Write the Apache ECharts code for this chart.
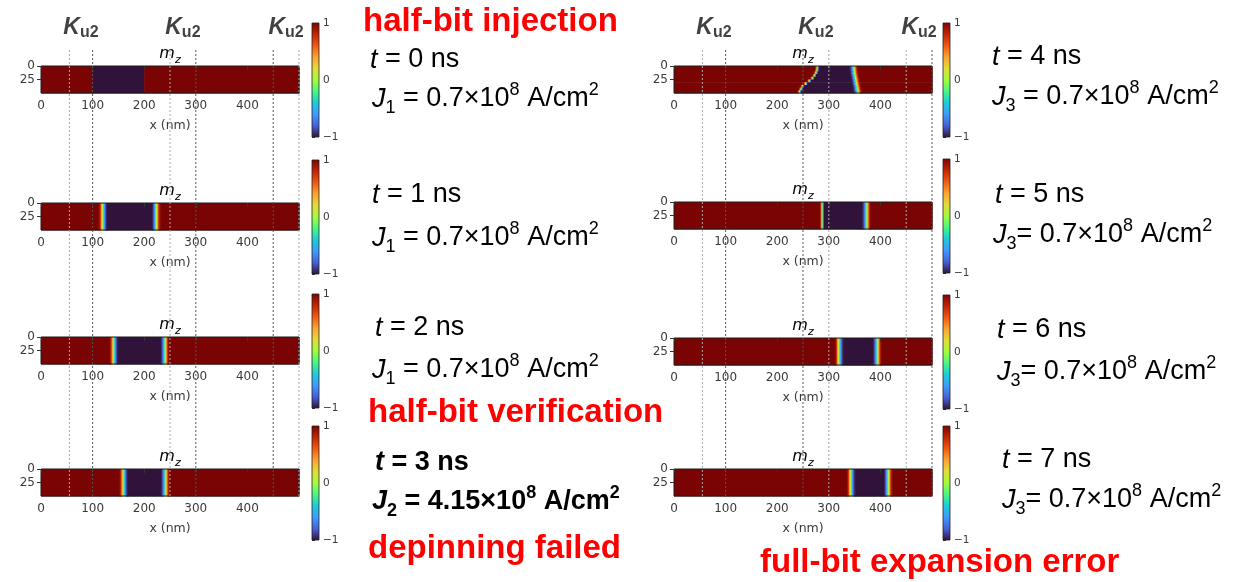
<!DOCTYPE html>
<html><head><meta charset="utf-8">
<script src="https://cdn.jsdelivr.net/npm/echarts@6/dist/echarts.min.js"></script>
<style>html,body{margin:0;padding:0;background:#fff}#c{width:1237px;height:582px}</style>
</head><body><div id="c"></div>
<script>
// ================= DATA =================
const panelTimes = ['0','1','2','3','4','5','6','7'];            // t (ns)
const currentIndex = ['1','1','1','2','3','3','3','3'];          // J subscript
const currentValue = ['0.7','0.7','0.7','4.15','0.7','0.7','0.7','0.7']; // x10^8 A/cm^2
const currentSep = [' = ',' = ',' = ',' = ',' = ','= ','= ','= '];
const captions = ['half-bit injection','half-bit verification','depinning failed','full-bit expansion error'];
const xTicks = [0,100,200,300,400];
const yTicks = [0,25];
const cbTicks = [-1,0,1];
const ku2Bounds = [[55,100],[250,300],[450,500]];
// domain-wall centres (nm); an array = one value per 5 nm row (y = 0..50), t = 4 ns wall is curved
const wallLeft  = [100,120,141,160,[277.5,277,275,272,268,262,255,249,246,243],287,320,343];
const wallRight = [200,223,240,241,[348,348.5,349,350,351,352,353,354,355,356],373,394,415];
const wallLeftKind  = ['sharp','wide','wide','wide','narrow','narrow','wide','wide'];
const wallRightKind = ['sharp','wide','wide','wide','wide','wide','wide','wide'];
// m_z across a wall, 2 nm samples, from the +1 side to the -1 side
const wideWall = [0.92,0.75,0.45,0.1,-0.3,-0.6,-0.82,-0.95];
const narrowWall = [0.6,0,-0.6];
const turbo = ['#30123b','#4660d6','#3e9bfe','#1ecbda','#46f884','#a4fc3c','#e2dc38','#fea331','#ef5a11','#c22402','#7a0403'];

// ================= LAYOUT =================
const stripLeft = [41,41,41,41,674,674,674,674];
const stripTop  = [66,203,337,469,66,202,338,469];
const stripW = 258, stripH = 27;
const cbLeft = [312,312,312,312,943,943,943,943];
const cbW = 7, cbH = 114, cbOff = -43;
const tPos = [[370,60],[372,195],[375,328],[375,463],[992,57],[995,195],[997,330],[1002,460]];
const jPos = [[372,99],[372,238],[372,370],[372,502],[992,97],[993,235],[997,372],[1002,500]];
const capPos = [[363,22],[368,413],[368,549],[760,563]];
const lineShade = [['#aaa','#555','#aaa','#555','#555','#aaa'],['#888','#555','#555','#aaa','#aaa','#555']];
const TXT = 'Liberation Sans, Arial, sans-serif';
const AX = 'DejaVu Sans, sans-serif';

function profile(kind){ return kind==='wide'?wideWall:(kind==='narrow'?narrowWall:[]); }
function panelCells(p){
  const out=[], step=2;
  const curved=Array.isArray(wallLeft[p])||Array.isArray(wallRight[p]);
  const rows=curved?10:1, dy=50/rows;
  const pl=profile(wallLeftKind[p]), pr=profile(wallRightKind[p]).slice().reverse();
  for(let r=0;r<rows;r++){
    const y0=r*dy, y1=y0+dy;
    const L=Array.isArray(wallLeft[p])?wallLeft[p][r]:wallLeft[p];
    const R=Array.isArray(wallRight[p])?wallRight[p][r]:wallRight[p];
    const lh=pl.length*step/2, rh=pr.length*step/2;
    out.push([0,L-lh,y0,y1,1]);
    pl.forEach((v,k)=>out.push([L-lh+k*step,L-lh+(k+1)*step,y0,y1,v]));
    out.push([L+lh,R-rh,y0,y1,-1]);
    pr.forEach((v,k)=>out.push([R-rh+k*step,R-rh+(k+1)*step,y0,y1,v]));
    out.push([R+rh,500,y0,y1,1]);
  }
  return out;
}
function renderCell(params, api){
  const p0=api.coord([api.value(0),api.value(2)]), p1=api.coord([api.value(1),api.value(3)]);
  const x=Math.min(p0[0],p1[0]), y=Math.min(p0[1],p1[1]);
  const w=Math.abs(p1[0]-p0[0]), h=Math.abs(p1[1]-p0[1]);
  const cell={type:'rect',shape:{x:x,y:y,width:w+0.6,height:h+0.6},style:{fill:api.visual('color')}};
  if(params.dataIndex===0){
    const a=api.coord([0,0]), b=api.coord([500,50]);
    return {type:'group',children:[cell,{type:'rect',z2:100,shape:{x:Math.min(a[0],b[0]),y:Math.min(a[1],b[1]),width:Math.abs(b[0]-a[0]),height:Math.abs(b[1]-a[1])},style:{fill:'none',stroke:'#1a1a1a',lineWidth:1}}]};
  }
  return cell;
}
const cbStops = turbo.map((c,k)=>({offset:k/(turbo.length-1),color:turbo[turbo.length-1-k]}));
function renderBar(params, api){
  const a=api.coord([0,api.value(1)]), b=api.coord([1,api.value(0)]);
  return {type:'rect',shape:{x:a[0],y:a[1],width:b[0]-a[0],height:b[1]-a[1]},
    style:{fill:{type:'linear',x:0,y:0,x2:0,y2:1,colorStops:cbStops},stroke:'#222',lineWidth:0.8}};
}
function renderVLine(params, api){
  const a=api.coord([api.value(0),0]), b=api.coord([api.value(0),1]);
  return {type:'line',shape:{x1:a[0],y1:a[1],x2:b[0],y2:b[1]},style:{stroke:api.value(1)===1?'#555':'#aaa',lineWidth:1,lineDash:[2,2]}};
}

const grid=[], xAxis=[], yAxis=[], series=[];
const axLbl={fontSize:12,color:'#3a3a3a',fontFamily:AX};
for(let p=0;p<8;p++){
  grid.push({left:stripLeft[p],top:stripTop[p],width:stripW,height:stripH});
  xAxis.push({gridIndex:p,type:'value',min:0,max:500,z:6,axisLine:{show:false},splitLine:{show:false},
    axisTick:{show:true,customValues:xTicks,length:4,lineStyle:{color:'#333'}},
    axisLabel:Object.assign({customValues:xTicks,margin:7},axLbl),
    name:'x (nm)',nameLocation:'middle',nameGap:26,nameTextStyle:{fontSize:12.5,color:'#3a3a3a',fontFamily:AX}});
  yAxis.push({gridIndex:p,type:'value',min:0,max:50,inverse:true,z:6,axisLine:{show:false},splitLine:{show:false},
    axisTick:{show:true,customValues:yTicks,length:4,lineStyle:{color:'#333'}},
    axisLabel:Object.assign({customValues:yTicks,margin:6},axLbl)});
  series.push({type:'custom',xAxisIndex:p,yAxisIndex:p,renderItem:renderCell,data:panelCells(p),
    encode:{x:[0,1],y:[2,3]},silent:true,animation:false});
}
for(let p=0;p<8;p++){
  const g=8+p;
  grid.push({left:cbLeft[p],top:stripTop[p]+cbOff,width:cbW,height:cbH});
  xAxis.push({gridIndex:g,type:'value',min:0,max:1,show:false});
  yAxis.push({gridIndex:g,type:'value',min:-1,max:1,position:'right',axisLine:{show:false},splitLine:{show:false},
    axisTick:{show:true,customValues:cbTicks,length:3,lineStyle:{color:'#333'}},
    axisLabel:{customValues:cbTicks,fontSize:10.5,color:'#3a3a3a',fontFamily:AX,margin:4,
      formatter:v=>v<0?'\u2212'+Math.abs(v):String(v)}});
  series.push({type:'custom',xAxisIndex:g,yAxisIndex:g,renderItem:renderBar,data:[[-1,1]],silent:true,animation:false});
}
// overlay grids for K_u2 boundaries
for(let c=0;c<2;c++){
  const g=16+c;
  grid.push({left:stripLeft[c*4],top:48,width:stripW,height:448});
  xAxis.push({gridIndex:g,type:'value',min:0,max:500,show:false});
  yAxis.push({gridIndex:g,type:'value',min:0,max:1,show:false});
}
for(let c=0;c<2;c++){
  const g=16+c;
  const lines=[];
  ku2Bounds.forEach((b,k)=>{lines.push([b[0],lineShade[c][2*k]==='#555'?1:0]);lines.push([b[1],lineShade[c][2*k+1]==='#555'?1:0]);});
  series.push({type:'custom',xAxisIndex:g,yAxisIndex:g,renderItem:renderVLine,data:lines,z:10,silent:true,animation:false});
}
for(let c=0;c<2;c++){
  const g=16+c;
  series.push({type:'scatter',xAxisIndex:g,yAxisIndex:g,symbolSize:1,itemStyle:{color:'rgba(0,0,0,0)'},silent:true,animation:false,
    data:ku2Bounds.map(b=>[(b[0]+b[1])/2,1]),
    label:{show:true,position:'inside',offset:[0,-20],formatter:'{k|K}{u|u2}',
      rich:{k:{fontSize:23,fontWeight:'bold',fontStyle:'italic',fontFamily:TXT,color:'#111'},
            u:{fontSize:16,fontWeight:'bold',fontFamily:TXT,color:'#111',padding:[10,0,0,0]}}}});
}

// text graphics
const graphic=[];
function richSet(bold){
  const fw=bold?'bold':'normal', col=bold?'#111':'#222';
  return {
    n:{fontSize:27,fontFamily:TXT,fontWeight:fw,color:col},
    i:{fontSize:27,fontFamily:TXT,fontWeight:fw,fontStyle:'italic',color:col},
    sub:{fontSize:18,fontFamily:TXT,fontWeight:fw,color:col,padding:[18,0,0,0]},
    sup:{fontSize:18,fontFamily:TXT,fontWeight:fw,color:col,padding:[0,0,17,0]}
  };
}
for(let p=0;p<8;p++){
  const bold=(p===3);
  graphic.push({type:'text',x:tPos[p][0],y:tPos[p][1],silent:true,
    style:{text:'{i|t}{n| = '+panelTimes[p]+' ns}',rich:richSet(bold),verticalAlign:'middle',textVerticalAlign:'middle'}});
  graphic.push({type:'text',x:jPos[p][0],y:jPos[p][1],silent:true,
    style:{text:'{i|J}{sub|'+currentIndex[p]+'}{n|'+currentSep[p]+currentValue[p]+'\u00d710}{sup|8}{n| A/cm}{sup|2}',rich:richSet(bold),verticalAlign:'middle',textVerticalAlign:'middle'}});
  // m_z title
  graphic.push({type:'text',x:stripLeft[p]+stripW/2,y:stripTop[p]-12,silent:true,
    style:{text:'{m|m}{z|z}',align:'center',textAlign:'center',verticalAlign:'middle',textVerticalAlign:'middle',
      rich:{m:{fontSize:16,fontStyle:'italic',fontFamily:AX,color:'#333'},z:{fontSize:11,fontStyle:'italic',fontFamily:AX,color:'#333',padding:[12,0,0,0]}}}});
}
captions.forEach((t,k)=>{
  graphic.push({type:'text',x:capPos[k][0],y:capPos[k][1],silent:true,
    style:{text:t,fontSize:33,fontWeight:'bold',fontFamily:TXT,fill:'#ff0000',verticalAlign:'middle',textVerticalAlign:'middle'}});
});

const chart=echarts.init(document.getElementById('c'),null,{renderer:'canvas'});
chart.setOption({
  animation:false,backgroundColor:'#fff',
  grid:grid,xAxis:xAxis,yAxis:yAxis,series:series,graphic:graphic,
  visualMap:{type:'continuous',show:false,min:-1,max:1,dimension:4,seriesIndex:[0,1,2,3,4,5,6,7],inRange:{color:turbo}}
});
</script></body></html>
